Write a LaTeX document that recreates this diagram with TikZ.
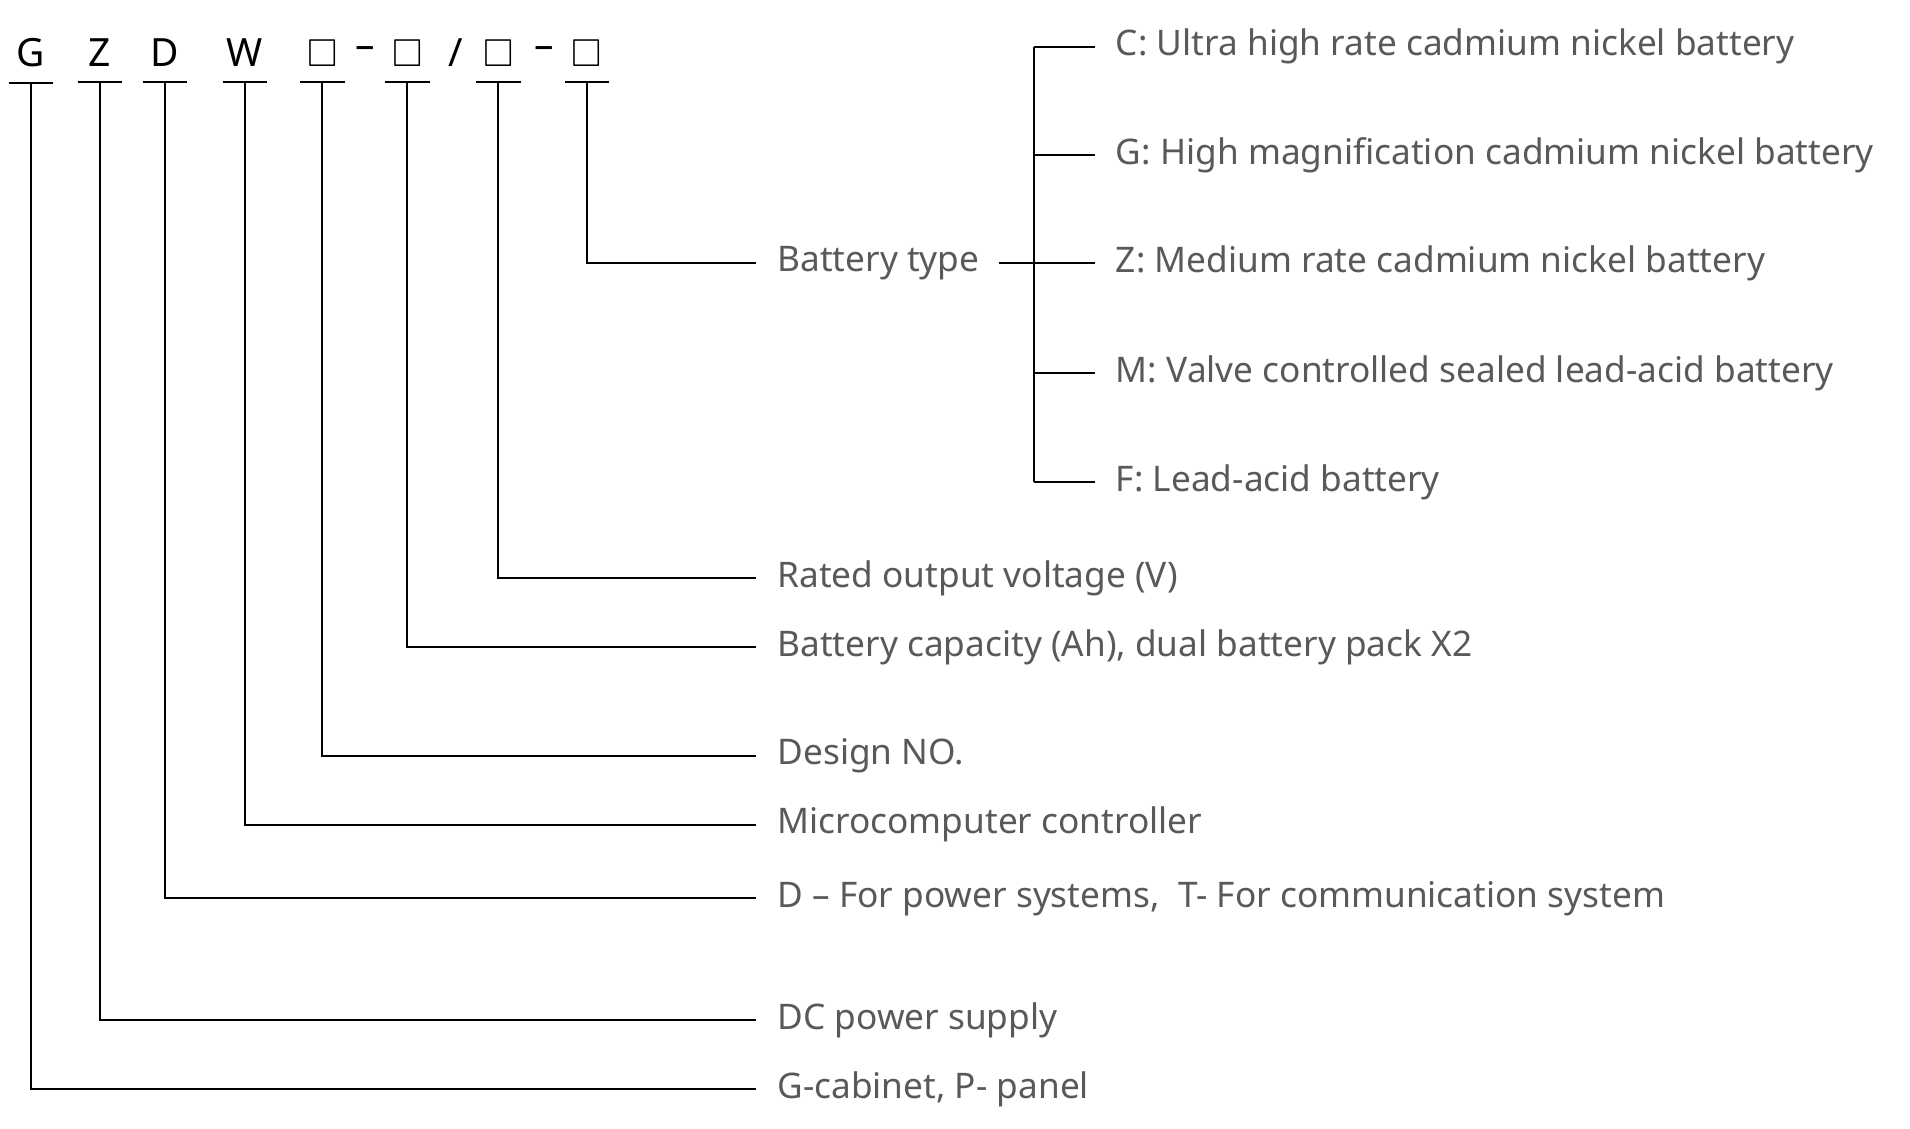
\documentclass[tikz,border=0pt]{standalone}
\usepackage{amssymb}
\usepackage{fontspec}
\setmainfont{Noto Sans}
\usetikzlibrary{positioning}

\begin{document}
\begin{tikzpicture}[x=0.02cm, y=-0.02cm, line width=0.9pt,
                    code node/.style={font=\fontsize{18}{20}\selectfont, text=black},
                    item node/.style={anchor=west, inner sep=0pt, font=\fontsize{16.3}{19}\selectfont, text=black!65}]

  \useasboundingbox (0,0) rectangle (1552,917);

  % code letters
  \node[code node] (g) at (25,43) {G};
  \node[code node] (z) at (81,43) {Z};
  \node[code node] (d) at (134,43) {D};
  \node[code node] (w) at (199,43) {W};
  \node[code node] (b1) at (262,43) {$\square$};
  \node[code node] (s1) at (297,43) {--};
  \node[code node] (b2) at (331,43) {$\square$};
  \node[code node] (s2) at (370,43) {/};
  \node[code node] (b3) at (405,43) {$\square$};
  \node[code node] (s3) at (442,43) {--};
  \node[code node] (b4) at (477,43) {$\square$};

  % explanations
  \node[item node] (type) at (631,214) {Battery type};
  \node[item node] (volt) at (631,470) {Rated output voltage (V)};
  \node[item node] (cap) at (631,526) {Battery capacity (Ah), dual battery pack X2};
  \node[item node] (des) at (631,614) {Design NO.};
  \node[item node] (mc) at (631,670) {Microcomputer controller};
  \node[item node] (sys) at (631,730) {D -- For power systems,\ \ T- For communication system};
  \node[item node] (dc) at (631,829) {DC power supply};
  \node[item node] (cab) at (631,885) {G-cabinet, P- panel};

  \node[item node] (tc) at (906,38) {C: Ultra high rate cadmium nickel battery};
  \node[item node] (tg) at (906,126) {G: High magnification cadmium nickel battery};
  \node[item node] (tz) at (906,214) {Z: Medium rate cadmium nickel battery};
  \node[item node] (tm) at (906,303) {M: Valve controlled sealed lead-acid battery};
  \node[item node] (tf) at (906,392) {F: Lead-acid battery};

  % leader lines
  \foreach \c/\y/\t in {g/887/cab, z/829/dc, d/732/sys, w/674/mc, b1/614/des, b2/530/cap, b3/468/volt, b4/218/type}{
    \draw (\c.south)+(-18,6) -- +(18,6);
    \draw (\c.south)+(0,6) |- ([xshift=-0.34cm]\t.west);
  }

  % bracket
  \draw ([xshift=0.3cm]type.east) -- ([xshift=-0.32cm]tz.west);
  \draw ([xshift=-1.32cm]tc.west) -- ([xshift=-1.32cm]tf.west);
  \foreach \t in {tc, tg, tz, tm, tf}
    \draw ([xshift=-1.32cm]\t.west) -- ([xshift=-0.32cm]\t.west);
\end{tikzpicture}
\end{document}
